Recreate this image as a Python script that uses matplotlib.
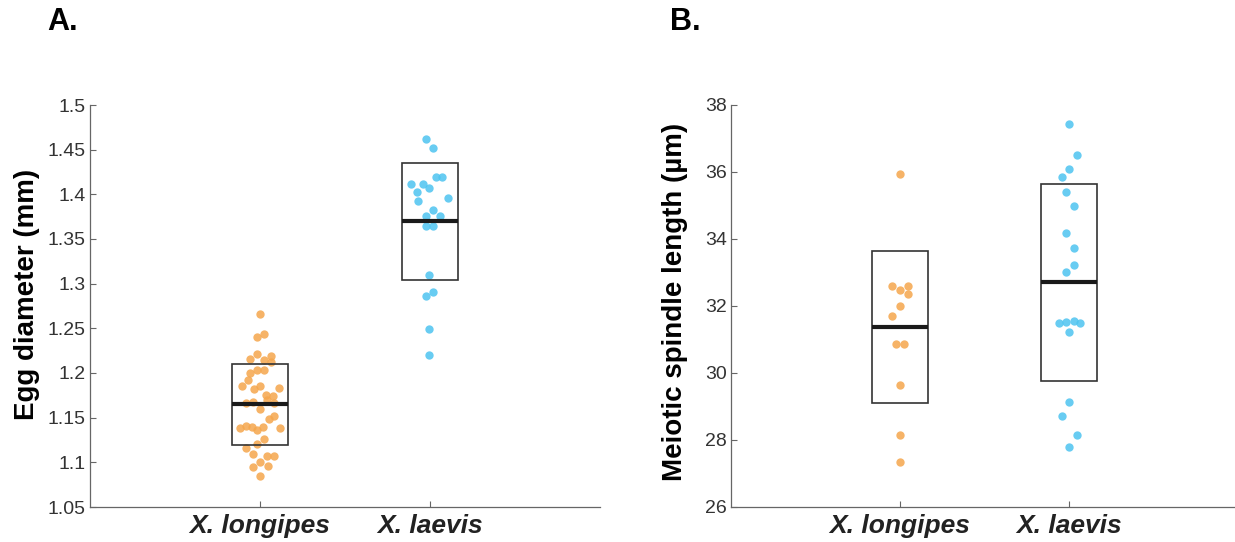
import matplotlib
matplotlib.use("Agg")
import matplotlib.pyplot as plt
from matplotlib.patches import Rectangle
from matplotlib.ticker import FormatStrFormatter, FuncFormatter

plt.rcParams['font.family'] = ['Liberation Sans', 'DejaVu Sans']

# --- Dati ---
species = ["X. longipes", "X. laevis"]

# Pannello A: diametro uovo (mm)
egg_longipes = [1.266, 1.244, 1.240, 1.221, 1.216, 1.219, 1.214, 1.212, 1.203, 1.203,
                1.200, 1.192, 1.186, 1.185, 1.182, 1.183, 1.175, 1.174, 1.170, 1.168,
                1.166, 1.166, 1.160, 1.152, 1.149, 1.141, 1.138, 1.139, 1.140, 1.136,
                1.138, 1.126, 1.116, 1.120, 1.109, 1.107, 1.107, 1.100, 1.095, 1.096,
                1.085]
egg_longipes_dx = [0.00, 0.025, -0.02, -0.02, -0.06, 0.065, 0.025, 0.065, -0.02, 0.025,
                   -0.06, -0.07, 0.00, -0.105, -0.035, 0.11, 0.035, 0.075, 0.04, -0.04,
                   -0.08, 0.08, 0.00, 0.085, 0.055, -0.085, -0.12, -0.05, 0.02, -0.015,
                   0.12, 0.025, -0.08, -0.02, -0.04, 0.04, 0.08, 0.00, -0.04, 0.045,
                   0.00]
egg_laevis = [1.462, 1.452, 1.412, 1.412, 1.419, 1.419, 1.407, 1.403, 1.393, 1.396,
              1.383, 1.376, 1.376, 1.364, 1.364, 1.310, 1.291, 1.286, 1.249, 1.220]
egg_laevis_dx = [-0.025, 0.02, -0.11, -0.04, 0.035, 0.07, -0.005, -0.075, -0.07, 0.105,
                 0.015, -0.025, 0.06, -0.025, 0.02, -0.005, 0.02, -0.025, -0.005, -0.005]
egg_box_low = [1.119, 1.304]
egg_box_high = [1.210, 1.435]
egg_median = [1.165, 1.370]

# Pannello B: lunghezza fuso meiotico (um)
spindle_longipes = [35.93, 32.60, 32.47, 32.60, 32.35, 31.99, 31.71, 30.87, 30.87, 29.65,
                    28.16, 27.34]
spindle_longipes_dx = [0.00, -0.045, 0.00, 0.045, 0.045, 0.00, -0.045, -0.025, 0.025, 0.00,
                       0.00, 0.00]
spindle_laevis = [37.42, 36.52, 36.10, 35.85, 35.40, 34.99, 34.18, 33.74, 33.23, 33.02,
                  31.48, 31.52, 31.56, 31.48, 31.21, 29.14, 28.72, 28.15, 27.78]
spindle_laevis_dx = [0.00, 0.045, 0.00, -0.04, -0.02, 0.03, -0.02, 0.03, 0.03, -0.02,
                     -0.06, -0.015, 0.03, 0.065, 0.00, 0.00, -0.04, 0.045, 0.00]
spindle_box_low = [29.11, 29.77]
spindle_box_high = [33.64, 35.65]
spindle_median = [31.37, 32.71]

# Colori
ORANGE = '#F5A64C'
BLUE = '#4EC4F0'
SPINE = '#666666'
TEXT = '#333333'

BOX_HALF = 0.167


def draw_panel(ax, groups, box_low, box_high, median, ylim, yticks, ylabel, fmt):
    """Disegna punti con jitter, box e mediana su un asse."""
    for i, (vals, dx, color) in enumerate(groups):
        xc = i + 1
        xs = [xc + d for d in dx]
        ax.scatter(xs, vals, s=36, color=color, alpha=0.85, linewidths=0, zorder=2)
        # box rettangolare
        ax.add_patch(Rectangle((xc - BOX_HALF, box_low[i]), 2 * BOX_HALF,
                               box_high[i] - box_low[i], fill=False,
                               edgecolor='#333333', linewidth=1.2, zorder=3))
        # mediana
        ax.plot([xc - BOX_HALF, xc + BOX_HALF], [median[i], median[i]],
                color='#1a1a1a', linewidth=3, solid_capstyle='butt', zorder=4)

    ax.set_xlim(0, 3)
    ax.set_ylim(*ylim)
    ax.set_yticks(yticks)
    ax.yaxis.set_major_formatter(fmt)
    ax.set_xticks([1, 2])
    ax.set_xticklabels(species, fontsize=19, fontweight='bold', fontstyle='italic',
                       color='#222222')
    ax.tick_params(axis='both', direction='in', length=4, width=0.8, color=SPINE)
    ax.tick_params(axis='y', labelsize=14, labelcolor=TEXT, pad=3)
    ax.tick_params(axis='x', pad=5)
    for side in ['top', 'right']:
        ax.spines[side].set_visible(False)
    for side in ['left', 'bottom']:
        ax.spines[side].set_color(SPINE)
        ax.spines[side].set_linewidth(0.9)
    ax.set_ylabel(ylabel, fontsize=20, fontweight='bold', color='black')


fig = plt.figure(figsize=(12.35, 5.42), dpi=100)

ax_a = fig.add_axes([90 / 1235, 35 / 542, 510 / 1235, 402 / 542])
ax_b = fig.add_axes([731 / 1235, 35 / 542, 507 / 1235, 402 / 542])

draw_panel(ax_a,
           [(egg_longipes, egg_longipes_dx, ORANGE), (egg_laevis, egg_laevis_dx, BLUE)],
           egg_box_low, egg_box_high, egg_median,
           (1.05, 1.5), [1.05 + 0.05 * k for k in range(10)],
           "Egg diameter (mm)", FuncFormatter(lambda v, p: f"{v:.2f}".rstrip('0').rstrip('.')))
ax_a.yaxis.set_label_coords(-0.099, 0.53)

draw_panel(ax_b,
           [(spindle_longipes, spindle_longipes_dx, ORANGE), (spindle_laevis, spindle_laevis_dx, BLUE)],
           spindle_box_low, spindle_box_high, spindle_median,
           (26, 38), list(range(26, 39, 2)),
           "Meiotic spindle length (\u00b5m)", FormatStrFormatter('%d'))
ax_b.yaxis.set_label_coords(-0.084, 0.51)

# Etichette dei pannelli
fig.text(47 / 1235, 1 - 22 / 542, "A.", fontsize=22, fontweight='bold', va='center', ha='left')
fig.text(670 / 1235, 1 - 22 / 542, "B.", fontsize=22, fontweight='bold', va='center', ha='left')

fig.savefig("out.png", dpi=100)
